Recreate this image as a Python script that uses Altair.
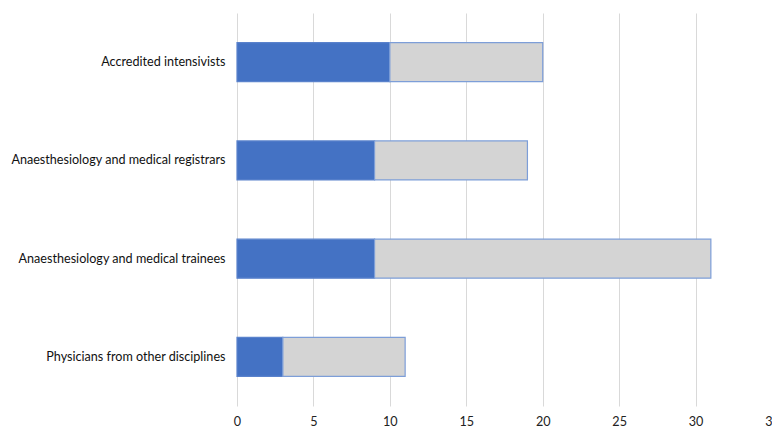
import altair as alt
import pandas as pd

categories = [
    "Accredited intensivists",
    "Anaesthesiology and medical registrars",
    "Anaesthesiology and medical trainees",
    "Physicians from other disciplines",
]
series_a = [10, 9, 9, 3]
series_b = [10, 10, 22, 8]
x_ticks = [0, 5, 10, 15, 20, 25, 30, 35]

rows = []
for c, a, b in zip(categories, series_a, series_b):
    rows.append({"cat": c, "series": "A", "value": a, "ord": 0})
    rows.append({"cat": c, "series": "B", "value": b, "ord": 1})
df = pd.DataFrame(rows)

chart = alt.Chart(df).mark_bar(size=39, strokeWidth=1.2).encode(
    y=alt.Y("cat:N", sort=categories, title=None,
            axis=alt.Axis(domain=False, ticks=False, labelPadding=12,
                          labelFontSize=12.6, labelFont="Lato", labelColor="#111",
                          labelLimit=400)),
    x=alt.X("value:Q", stack="zero", title=None,
            scale=alt.Scale(domain=[0, 35], nice=False),
            axis=alt.Axis(values=x_ticks, domain=False, ticks=False, grid=True,
                          gridColor="#d9d9d9", labelPadding=9, labelFontSize=12.6,
                          labelFont="Lato", labelColor="#222", labelFlush=False)),
    color=alt.Color("series:N", legend=None,
                    scale=alt.Scale(domain=["A", "B"], range=["#4472C4", "#d4d4d4"])),
    stroke=alt.Stroke("series:N", legend=None,
                      scale=alt.Scale(domain=["A", "B"], range=["#5a82cc", "#7d9ed8"])),
    order=alt.Order("ord:Q"),
).properties(
    width=535, height=393,
    autosize=alt.AutoSizeParams(type="none"),
    padding={"left": 229, "top": 5, "right": 0, "bottom": 24},
).configure_view(stroke=None)

chart.save("out.html", embed_options={"renderer": "svg", "actions": False})
